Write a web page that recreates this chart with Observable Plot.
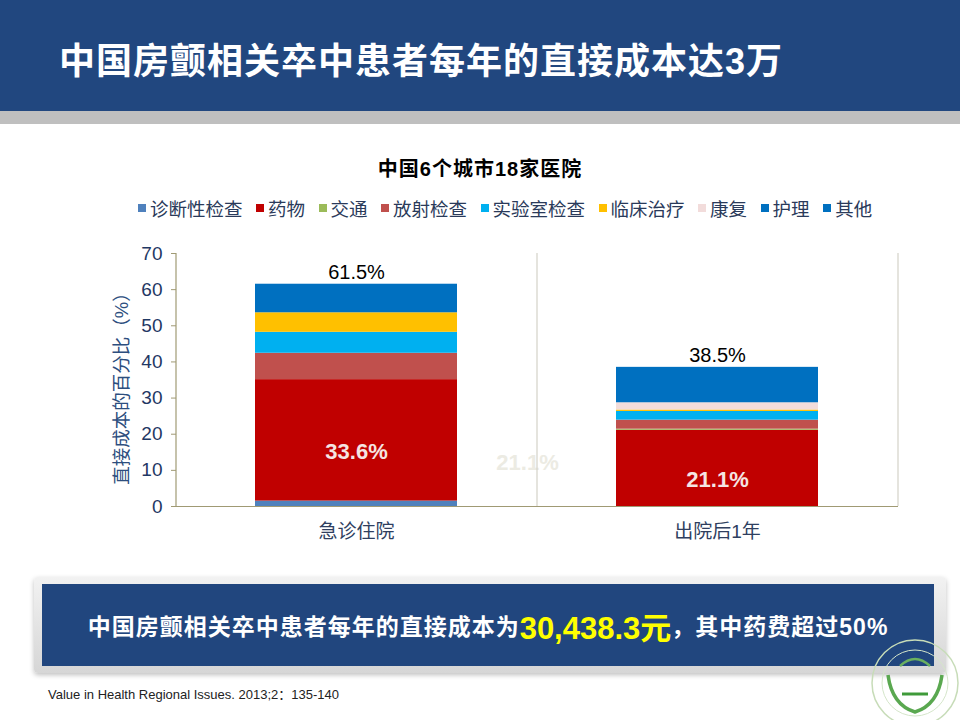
<!DOCTYPE html>
<html>
<head>
<meta charset="utf-8">
<script src="https://cdn.jsdelivr.net/npm/d3@7"></script>
<script src="https://cdn.jsdelivr.net/npm/@observablehq/plot@0.6"></script>
<style>
  html, body { margin:0; padding:0; background:#fff; }
  #page { position:relative; width:960px; height:720px; overflow:hidden; background:#fff;
    font-family:"Liberation Sans","Noto Sans CJK SC",sans-serif; }
  #hdr { position:absolute; left:0; top:0; width:960px; height:111px; background:#21477F; }
  #strip { position:absolute; left:0; top:111px; width:960px; height:13px; background:#BFBFBF; }
  #title { position:absolute; left:59px; top:40px; line-height:44px; font-size:36px; font-weight:bold;
    color:#fff; letter-spacing:1px; white-space:nowrap; }
  #ctitle { position:absolute; left:0; width:960px; top:156px; line-height:26px; text-align:center;
    font-size:20px; font-weight:bold; color:#000; letter-spacing:1px; }
  #legend { position:absolute; left:138px; top:196px; height:24px; display:flex; align-items:center;
    font-size:18.5px; color:#2A3A5A; white-space:nowrap; }
  #legend .it { display:flex; align-items:center; margin-right:13.5px; }
  #legend .sw { width:8px; height:8px; margin-right:4px; }
  #chart { position:absolute; left:0; top:230px; }
  #shadow { position:absolute; left:34px; top:577px; width:912px; height:96px; border-radius:4px;
    background:linear-gradient(#f2f2f2,#d6d6d6); box-shadow:0 2px 5px rgba(0,0,0,0.25); }
  #box { position:absolute; left:42px; top:584px; width:892px; height:82px; background:#21467E;
    display:flex; align-items:center; justify-content:center; white-space:nowrap; }
  #box .w { color:#fff; font-size:23px; font-weight:bold; letter-spacing:1px; }
  #box .y { color:#FFFF00; font-size:31px; font-weight:bold; }
  #src { position:absolute; left:48px; top:684px; font-size:13px; color:#222; white-space:nowrap; }
  #logo { position:absolute; left:860px; top:630px; }
</style>
</head>
<body>
<div id="page">
  <div id="hdr"></div>
  <div id="strip"></div>
  <div id="title"></div>
  <div id="ctitle"></div>
  <div id="legend"></div>
  <div id="chart"></div>
  <div id="shadow"></div>
  <div id="box"></div>
  <div id="src"></div>
  <svg id="logo" width="100" height="90">
    <circle cx="55" cy="53" r="43" fill="none" stroke="#c7dcb8" stroke-width="1.5"/>
    <circle cx="55" cy="53" r="33" fill="none" stroke="#d5e6ca" stroke-width="1"/>
    <path d="M28 45 Q32 75 55 82 Q78 75 82 45" fill="none" stroke="#5aa850" stroke-width="3.5"/>
    <path d="M40 36 Q55 22 70 36" fill="none" stroke="#6ab05f" stroke-width="2.5"/>
    <path d="M42 64 L68 64" stroke="#3f9a3a" stroke-width="3"/>
  </svg>
</div>
<script>
const titleText = "中国房颤相关卒中患者每年的直接成本达3万";
const chartTitle = "中国6个城市18家医院";
const categories = ["急诊住院", "出院后1年"];
const types = ["诊断性检查", "药物", "交通", "放射检查", "实验室检查", "临床治疗", "康复", "护理", "其他"];
const colors = ["#4F81BD", "#C00000", "#9BBB59", "#C0504D", "#00B0F0", "#FFC000", "#F2DCDB", "#0070C0", "#0070C0"];
const acuteValues = [1.5, 33.6, 0, 7.3, 5.8, 5.4, 0, 0, 7.9];
const yearValues = [0, 21.1, 0.3, 2.5, 2.4, 0.4, 2.0, 0, 9.8];
const totals = [61.5, 38.5];
const totalLabels = ["61.5%", "38.5%"];
const drugLabels = ["33.6%", "21.1%"];
const yTicks = [0, 10, 20, 30, 40, 50, 60, 70];
const yLabel = "直接成本的百分比（%）";
const boxPre = "中国房颤相关卒中患者每年的直接成本为";
const boxHighlight = "30,438.3元";
const boxPost = "，其中药费超过50%";
const source = "Value in Health Regional Issues. 2013;2：135-140";

document.getElementById("title").textContent = titleText;
document.getElementById("ctitle").textContent = chartTitle;
document.getElementById("src").textContent = source;
const box = document.getElementById("box");
[[boxPre,"w"],[boxHighlight,"y"],[boxPost,"w"]].forEach(([t,c]) => {
  const s = document.createElement("span"); s.className = c; s.textContent = t; box.appendChild(s);
});
const leg = document.getElementById("legend");
types.forEach((t, i) => {
  const it = document.createElement("div"); it.className = "it";
  const sw = document.createElement("div"); sw.className = "sw"; sw.style.background = colors[i];
  const tx = document.createElement("span"); tx.textContent = t;
  it.appendChild(sw); it.appendChild(tx); leg.appendChild(it);
});

const seriesValues = [acuteValues, yearValues];
const rows = [];
categories.forEach((c, ci) => types.forEach((t, ti) => rows.push({cat: c, type: t, value: seriesValues[ci][ti]})));
const totalRows = categories.map((c, i) => ({cat: c, total: totals[i], label: totalLabels[i]}));
const drugRows = categories.map((c, i) => ({cat: c, mid: seriesValues[i][0] + seriesValues[i][1] / 2, label: drugLabels[i]}));
const ghostRows = [drugRows[1]];

const W = 960, H = 330, mL = 176, mR = 62, mT = 23, mB = 54;
const pIn = 0.44, pOut = 0.22;
const step = (W - mL - mR) / (categories.length - pIn + 2 * pOut);
const fontFamily = "Liberation Sans, Noto Sans CJK SC, sans-serif";

const chart = Plot.plot({
  width: W, height: H, marginLeft: mL, marginRight: mR, marginTop: mT, marginBottom: mB,
  style: {fontFamily, background: "transparent", overflow: "visible"},
  x: {domain: categories, paddingInner: pIn, paddingOuter: pOut},
  y: {domain: [0, 70]},
  color: {domain: types, range: colors},
  marks: [
    Plot.text(ghostRows, {x: "cat", y: "mid", text: "label", dx: -190, dy: -5, fill: "#ECEBE3", fontSize: 22, fontWeight: "bold"}),
    Plot.ruleX(categories, {x: d => d, dx: step / 2, y1: 0, y2: 70, stroke: "#D4D2C8", strokeWidth: 1.2}),
    Plot.barY(rows, {x: "cat", y: "value", fill: "type"}),
    Plot.ruleX([categories[0]], {x: d => d, dx: -step / 2, y1: 0, y2: 70, stroke: "#A09A74", strokeWidth: 1.2}),
    Plot.ruleY([0], {stroke: "#A09A74", strokeWidth: 1.2}),
    Plot.axisY({ticks: yTicks, tickSize: 5, tickPadding: 9, fontSize: 19, fill: "#1F3864", stroke: "#A09A74",
      label: null}),
    Plot.text([yLabel], {frameAnchor: "left", textAnchor: "middle", text: d => d, rotate: -90, dx: -54, dy: 4, fontSize: 18.5, fill: "#2D4E7E"}),
    Plot.axisX({tickSize: 0, tickPadding: 18, fontSize: 19, fill: "#2F3F5F", label: null}),
    Plot.text(totalRows, {x: "cat", y: "total", text: "label", dy: -12, fontSize: 20, fill: "#000"}),
    Plot.text(drugRows, {x: "cat", y: "mid", text: "label", dy: 12, fontSize: 22, fontWeight: "bold", fill: "#F5E4E3"})
  ]
});
document.getElementById("chart").appendChild(chart);
</script>
</body>
</html>
